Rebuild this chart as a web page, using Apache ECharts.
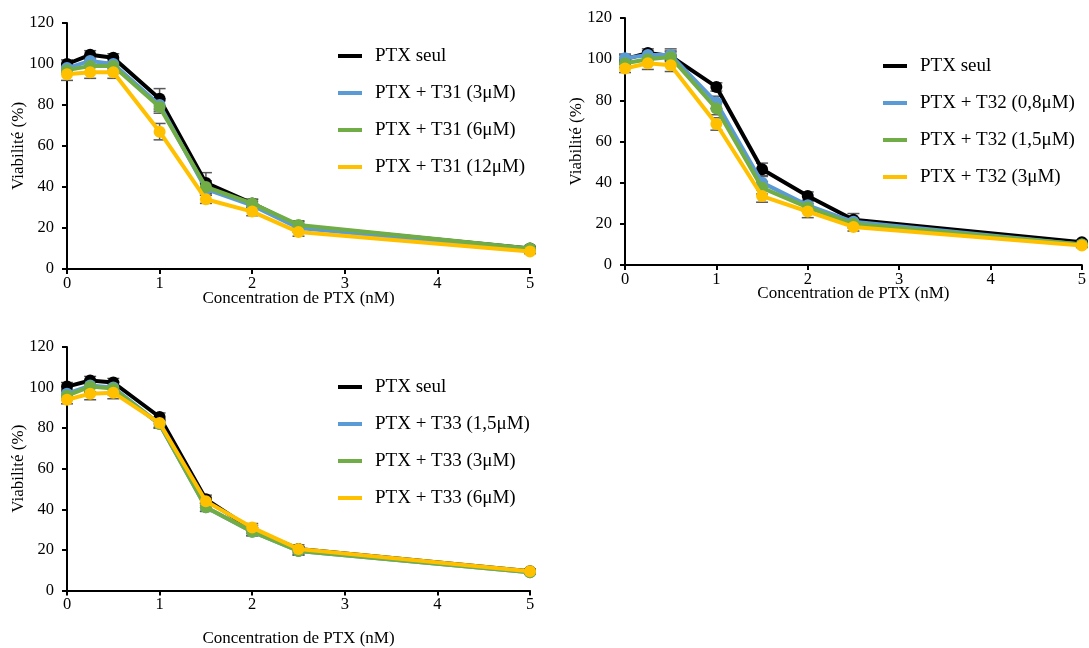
<!DOCTYPE html>
<html><head><meta charset="utf-8">
<script src="https://cdn.jsdelivr.net/npm/echarts@6/dist/echarts.min.js"></script>
<style>html,body{margin:0;padding:0;background:#fff}#c{width:1089px;height:648px}</style>
</head><body><div id="c"></div>
<script>
const concentrations = [0, 0.25, 0.5, 1, 1.5, 2, 2.5, 5];
const yTicks = [0, 20, 40, 60, 80, 100, 120];

// Panel 1 (T31)
const p1Names = ['PTX seul', 'PTX + T31 (3μM)', 'PTX + T31 (6μM)', 'PTX + T31 (12μM)'];
const p1Seul = [100, 104.5, 103, 83, 42, 32, 21, 10];
const p1A = [98, 101.5, 100, 80, 39, 31, 20, 9.5];
const p1B = [97, 99, 99, 79, 40, 32, 21.5, 10];
const p1C = [95, 96, 96, 67, 34, 28, 18, 8.5];
const p1ErrSeul = [2, 2, 2, 5, 5, 2, 2, 1];
const p1ErrA = [2, 3, 2, 3, 3, 2, 2, 1];
const p1ErrB = [2, 3, 2, 3, 3, 2, 2, 1];
const p1ErrC = [3, 3, 3, 4, 2, 2, 2, 1];

// Panel 2 (T32)
const p2Names = ['PTX seul', 'PTX + T32 (0,8μM)', 'PTX + T32 (1,5μM)', 'PTX + T32 (3μM)'];
const p2Seul = [100, 103, 101.5, 86.5, 46.5, 33.5, 22, 11];
const p2A = [100.5, 102, 102, 79, 40, 29, 21, 10];
const p2B = [98, 100, 101, 76, 37.5, 28, 20, 10];
const p2C = [95.5, 98, 97, 68.5, 33.5, 26, 18.5, 9.5];
const p2ErrSeul = [2, 2, 2, 2, 3, 2, 3, 1];
const p2ErrA = [2, 2, 3, 3, 3, 2, 2, 1];
const p2ErrB = [2, 2, 3, 3, 3, 2, 2, 1];
const p2ErrC = [2, 3, 3, 3, 3, 3, 2, 1];

// Panel 3 (T33)
const p3Names = ['PTX seul', 'PTX + T33 (1,5μM)', 'PTX + T33 (3μM)', 'PTX + T33 (6μM)'];
const p3Seul = [100.5, 103.5, 102.5, 85.5, 45, 30, 20.5, 9.5];
const p3A = [97, 101, 100, 82, 41, 29, 19.5, 9];
const p3B = [96, 100.5, 99.5, 82, 41, 29, 19.5, 9];
const p3C = [94, 97, 97.5, 82.5, 44, 31, 20.5, 9.5];
const p3ErrSeul = [2, 2, 2, 2, 2, 2, 1, 1];
const p3ErrA = [2, 3, 3, 2, 2, 2, 2, 1];
const p3ErrB = [2, 3, 3, 2, 2, 2, 2, 1];
const p3ErrC = [2, 3, 3, 2, 2, 2, 2, 1];

const colors = ['#000000', '#5B9BD5', '#70AD47', '#FFC000'];
const FONT = 'Liberation Serif';

const panels = [
  {names: p1Names, vals: [p1Seul, p1A, p1B, p1C], errs: [p1ErrSeul, p1ErrA, p1ErrB, p1ErrC],
   grid: {left: 67, top: 23, width: 463, height: 246}, legend: {left: 333, top: 41}, xGap: 30, yGap: 48},
  {names: p2Names, vals: [p2Seul, p2A, p2B, p2C], errs: [p2ErrSeul, p2ErrA, p2ErrB, p2ErrC],
   grid: {left: 625, top: 18, width: 460, height: 247}, legend: {left: 878, top: 51}, xGap: 29, yGap: 48},
  {names: p3Names, vals: [p3Seul, p3A, p3B, p3C], errs: [p3ErrSeul, p3ErrA, p3ErrB, p3ErrC],
   grid: {left: 67, top: 347, width: 463, height: 244}, legend: {left: 333, top: 372}, xGap: 48, yGap: 48}
];

const grid = [], xAxis = [], yAxis = [], legend = [], series = [];
panels.forEach((p, i) => {
  grid.push(p.grid);
  xAxis.push({
    type: 'value', gridIndex: i, min: 0, max: 5, interval: 1,
    name: 'Concentration de PTX (nM)', nameLocation: 'middle', nameGap: p.xGap, nameMoveOverlap: false,
    nameTextStyle: {fontFamily: FONT, fontSize: 17, color: '#000', verticalAlign: 'middle'},
    axisLine: {show: true, onZero: false, lineStyle: {color: '#000', width: 2}},
    axisTick: {show: true, length: 5, lineStyle: {color: '#000', width: 2}},
    axisLabel: {fontFamily: FONT, fontSize: 16.5, color: '#000', margin: 6},
    splitLine: {show: false}
  });
  yAxis.push({
    type: 'value', gridIndex: i, min: yTicks[0], max: yTicks[yTicks.length - 1], interval: 20,
    name: 'Viabilité (%)', nameLocation: 'middle', nameGap: p.yGap, nameRotate: 90, nameMoveOverlap: false,
    nameTextStyle: {fontFamily: FONT, fontSize: 17, color: '#000', verticalAlign: 'middle'},
    axisLine: {show: true, lineStyle: {color: '#000', width: 2}},
    axisTick: {show: true, length: 5, lineStyle: {color: '#000', width: 2}},
    axisLabel: {fontFamily: FONT, fontSize: 16.5, color: '#000', margin: 13},
    splitLine: {show: false}
  });
  legend.push({
    orient: 'vertical', left: p.legend.left, top: p.legend.top,
    data: p.names.map((n, k) => ({name: n, itemStyle: {color: colors[k]}})),
    icon: 'rect', itemWidth: 24, itemHeight: 4, itemGap: 17,
    textStyle: {fontFamily: FONT, fontSize: 19, color: '#000', padding: [0, 0, 0, 8], lineHeight: 20},
    selectedMode: false
  });
  p.vals.forEach((v, k) => {
    series.push({
      type: 'custom', xAxisIndex: i, yAxisIndex: i, silent: true, z: 1,
      data: concentrations.map((x, j) => [x, v[j], p.errs[k][j]]),
      renderItem: function (params, api) {
        const x = api.value(0), y = api.value(1), e = api.value(2);
        const top = api.coord([x, y + e]);
        const bot = api.coord([x, y - e]);
        const w = 6;
        const st = {stroke: '#595959', lineWidth: 1.5};
        return {type: 'group', children: [
          {type: 'line', shape: {x1: top[0], y1: top[1], x2: bot[0], y2: bot[1]}, style: st},
          {type: 'line', shape: {x1: top[0] - w, y1: top[1], x2: top[0] + w, y2: top[1]}, style: st},
          {type: 'line', shape: {x1: bot[0] - w, y1: bot[1], x2: bot[0] + w, y2: bot[1]}, style: st}
        ]};
      }
    });
  });
  p.vals.forEach((v, k) => {
    series.push({
      name: p.names[k], type: 'line', xAxisIndex: i, yAxisIndex: i, z: 2 + k,
      data: concentrations.map((x, j) => [x, v[j]]),
      symbol: 'circle', symbolSize: 12, showSymbol: true,
      lineStyle: {color: colors[k], width: 4},
      itemStyle: {color: colors[k]},
      emphasis: {disabled: true}
    });
  });
});

const chart = echarts.init(document.getElementById('c'));
chart.setOption({animation: false, backgroundColor: '#fff', grid, xAxis, yAxis, legend, series});
</script></body></html>
